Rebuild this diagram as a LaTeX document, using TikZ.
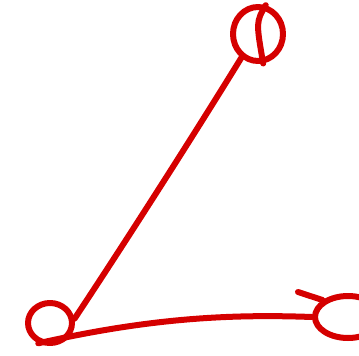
\documentclass[tikz,border=0pt]{standalone}
\usetikzlibrary{shapes.geometric}
\definecolor{sketchred}{HTML}{D50000}
\tikzset{pen/.style={draw=sketchred, line width=6pt, line cap=round, line join=round},
  blob/.style={pen, ellipse, inner sep=0pt}}

\begin{document}
\begin{tikzpicture}[x=1pt,y=-1pt]
  \useasboundingbox (0,0) rectangle (359,356);
  \clip (0,0) rectangle (359,356);
  \node[blob, minimum width=50pt, minimum height=54pt] (top) at (258,34) {};
  \node[blob, minimum width=44pt, minimum height=40pt] (base) at (50,323) {};
  \node[blob, minimum width=66pt, minimum height=42pt] (tip) at (348,317) {};
  % stroke inside the top loop
  \draw[pen] (top.75) .. controls (256,22) .. (top.-80);
  % edges
  \draw[pen] (base.10) .. controls (130,235) and (200,125) .. (top.-125);
  \draw[pen] (base.-120) .. controls (150,318) and (230,314) .. (tip.west);
  \draw[pen] (298,292) -- (tip.north west);
\end{tikzpicture}
\end{document}
